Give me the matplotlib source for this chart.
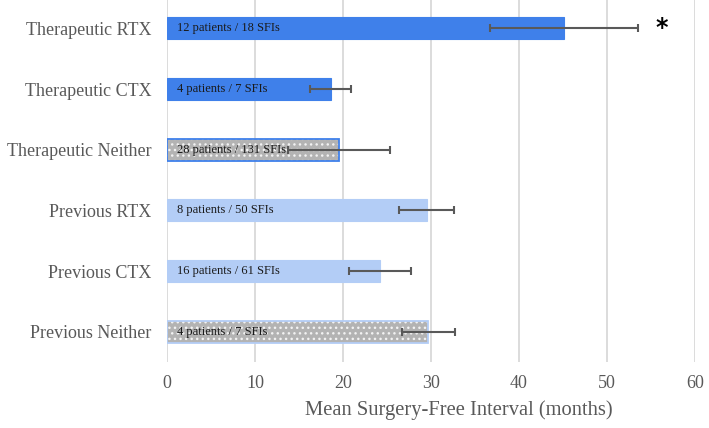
import matplotlib
matplotlib.use('Agg')
import matplotlib.pyplot as plt

# data
groups = ['Therapeutic RTX', 'Therapeutic CTX', 'Therapeutic Neither',
          'Previous RTX', 'Previous CTX', 'Previous Neither']
means = [45.1, 18.6, 19.5, 29.5, 24.2, 29.7]
errors = [8.4, 2.3, 5.8, 3.1, 3.5, 3.0]
counts = ['12 patients / 18 SFIs', '4 patients / 7 SFIs', '28 patients / 131 SFIs',
          '8 patients / 50 SFIs', '16 patients / 61 SFIs', '4 patients / 7 SFIs']
star_x = 56.2

dark_blue = '#3f80ea'
light_blue = '#b3cdf6'
grey = '#b3b3b3'
fills = [dark_blue, dark_blue, grey, light_blue, light_blue, grey]
edges = [dark_blue, dark_blue, dark_blue, light_blue, light_blue, light_blue]
dotted = [False, False, True, False, False, True]

plt.rcParams['font.family'] = ['Liberation Serif', 'DejaVu Serif']
plt.rcParams['hatch.linewidth'] = 1.0

fig = plt.figure(figsize=(7.09, 4.28), dpi=100)
ax = fig.add_axes([167 / 709, 1 - 362 / 428, 528 / 709, 364 / 428])

ypos = list(range(len(groups)))
for i in ypos:
    if dotted[i]:
        ax.barh(i, means[i], height=0.36, color=fills[i], edgecolor='#f2f2f2',
                linewidth=0, hatch='...', zorder=2)
        ax.barh(i, means[i], height=0.36, fill=False, edgecolor=edges[i],
                linewidth=1.3, zorder=3)
    else:
        ax.barh(i, means[i], height=0.36, color=fills[i], edgecolor=edges[i],
                linewidth=0.8, zorder=2)
    ax.text(1.1, i, counts[i], va='center', ha='left', fontsize=9,
            color='#1a1a1a', zorder=5)

ax.errorbar(means, ypos, xerr=errors, fmt='none', ecolor='#595959',
            elinewidth=1.5, capsize=3, capthick=1.5, zorder=4)

ax.text(star_x, 0, '*', ha='center', va='center', fontsize=17,
        fontweight='bold', family='DejaVu Sans', color='black')

ax.set_xlim(0, 60)
ax.set_ylim(5.5, -0.5)
ax.set_xticks(range(0, 61, 10))
ax.set_yticks(ypos)
ax.set_yticklabels(groups)
ax.grid(True, axis='x', color='#d9d9d9', linewidth=1.3, zorder=0)
ax.set_axisbelow(True)
for s in ax.spines.values():
    s.set_visible(False)
ax.tick_params(axis='both', length=0, labelsize=13, labelcolor='#595959')
ax.tick_params(axis='y', pad=11)
ax.tick_params(axis='x', pad=9)
ax.set_xlabel('Mean Surgery-Free Interval (months)', fontsize=14.8,
              color='#595959')
ax.xaxis.set_label_coords(0.552, -0.104)

fig.savefig('out.png', dpi=100)
